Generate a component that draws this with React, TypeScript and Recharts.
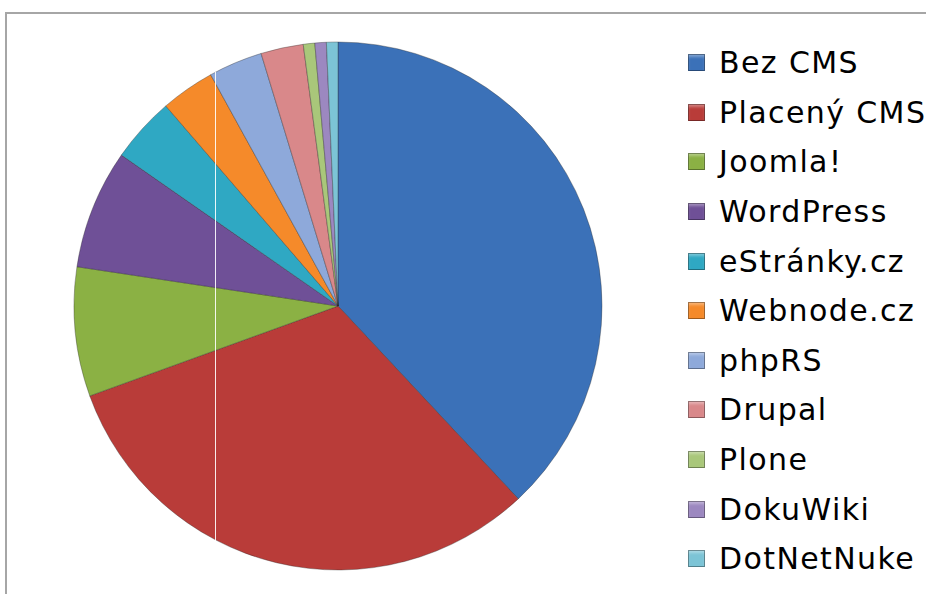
import React from "react";
import { PieChart, Pie, Cell } from "recharts";

const categories = [
  "Bez CMS",
  "Placený CMS",
  "Joomla!",
  "WordPress",
  "eStránky.cz",
  "Webnode.cz",
  "phpRS",
  "Drupal",
  "Plone",
  "DokuWiki",
  "DotNetNuke",
];
const shares = [38.0, 31.4, 7.9, 7.3, 4.0, 3.3, 3.3, 2.6, 0.7, 0.7, 0.7];
const colors = [
  "#3B71B8",
  "#B93C39",
  "#8BB144",
  "#6F5097",
  "#2FA8C3",
  "#F58A2A",
  "#8EA9DA",
  "#D9888A",
  "#A9C77A",
  "#9C88C0",
  "#7CC4D6",
];

const data = categories.map((name, i) => ({ name, value: shares[i] }));

const LegendBox = () => (
  <div
    style={{
      position: "absolute",
      left: 688,
      top: 38,
      width: 238,
      fontFamily: "DejaVu Sans, Verdana, sans-serif",
    }}
  >
    {data.map((d, i) => (
      <div
        key={d.name}
        style={{
          display: "flex",
          alignItems: "center",
          height: 49.6,
          fontSize: 30,
          letterSpacing: "1.4px",
          color: "#000",
          whiteSpace: "nowrap",
        }}
      >
        <span
          style={{
            display: "inline-block",
            width: 17,
            height: 17,
            background: colors[i],
            boxShadow:
              "inset 0 0 0 1px rgba(0,0,0,0.35), inset 0 3px 3px rgba(255,255,255,0.35)",
            marginRight: 14,
            flexShrink: 0,
          }}
        />
        <span>{d.name}</span>
      </div>
    ))}
  </div>
);

export default function App() {
  return (
    <div
      style={{
        position: "fixed",
        top: 0,
        left: 0,
        width: 926,
        height: 594,
        overflow: "hidden",
        background: "#fff",
      }}
    >
      <div
        style={{
          position: "absolute",
          left: 5,
          top: 12,
          width: 1000,
          height: 1000,
          border: "2px solid #a6a6a6",
          boxSizing: "border-box",
        }}
      />
      <div style={{ position: "absolute", left: 0, top: 0 }}>
        <PieChart width={926} height={594} margin={{ top: 0, right: 0, bottom: 0, left: 0 }}>
          <Pie
            data={data}
            dataKey="value"
            nameKey="name"
            cx={338}
            cy={306}
            outerRadius={264}
            startAngle={90}
            endAngle={-270}
            isAnimationActive={false}
            stroke="rgba(40,40,40,0.35)"
            strokeWidth={1}
          >
            {data.map((d, i) => (
              <Cell key={d.name} fill={colors[i]} />
            ))}
          </Pie>
        </PieChart>
      </div>
      <LegendBox />
      <div
        style={{
          position: "absolute",
          left: 215,
          top: 72,
          width: 1,
          height: 498,
          background: "#ffffff",
          opacity: 0.9,
        }}
      />
    </div>
  );
}
